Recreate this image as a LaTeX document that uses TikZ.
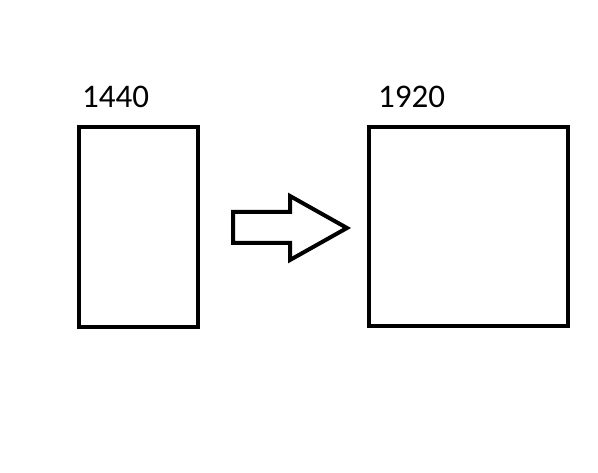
\documentclass[tikz,border=0pt]{standalone}
\usepackage{fontspec}
\setmainfont{Carlito}
\begin{document}
\begin{tikzpicture}[x=1pt,y=1pt,
  box/.style={draw=black,line width=4pt,fill=white,inner sep=0pt,outer sep=0pt,anchor=south west},
  lbl/.style={anchor=base west,inner sep=0pt,font=\fontsize{33}{38}\selectfont}]
\useasboundingbox (0,0) rectangle (598,473);
\fill[white] (0,0) rectangle (598,473);
\node[box,minimum width=119pt,minimum height=200pt] (left) at (79,146) {};
\node[box,minimum width=199pt,minimum height=199pt] (right) at (369,147) {};
\node[lbl] (l1) at (82,365) {1440};
\node[lbl] (l2) at (378,365) {1920};
\draw[line width=4pt,line join=miter] (233,261) -- (290,261) -- (290,277) -- (347,245) -- (290,213) -- (290,230) -- (233,230) -- cycle;
\end{tikzpicture}
\end{document}
